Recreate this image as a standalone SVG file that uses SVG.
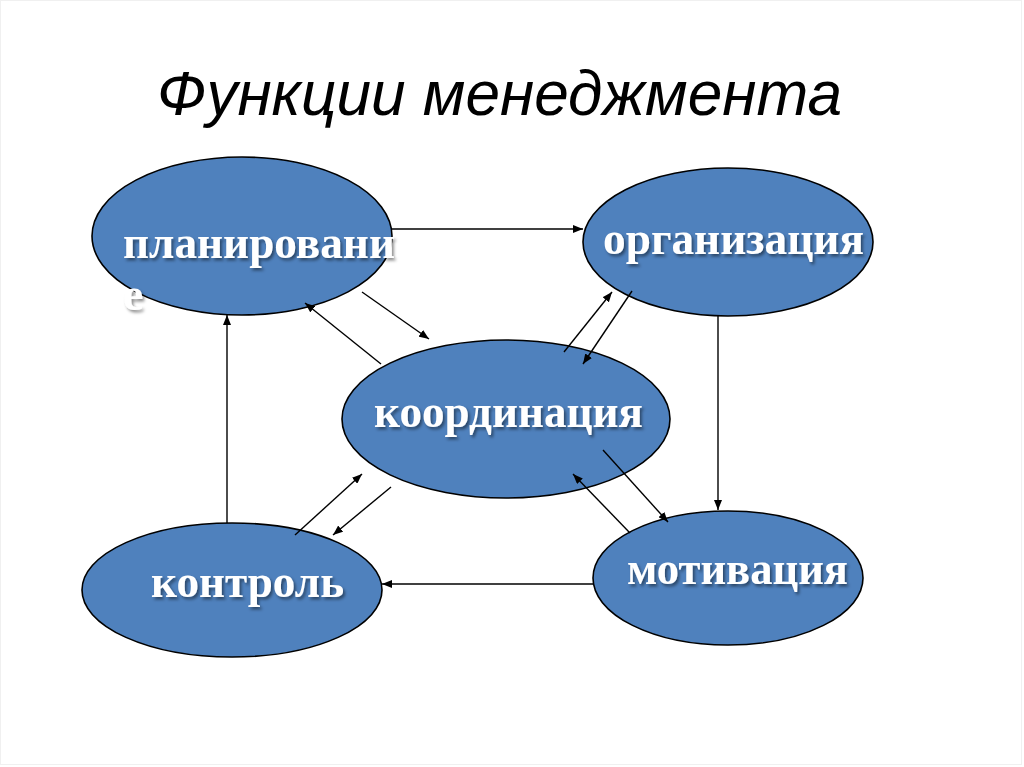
<svg xmlns="http://www.w3.org/2000/svg" width="1024" height="767" viewBox="0 0 1024 767">
<defs>
<style>
.node ellipse{fill:#4F81BD;stroke:#000;stroke-width:1.6}
.lbl{font-family:"Liberation Serif","Times New Roman",serif;font-weight:bold;font-size:46px;fill:#fff;filter:url(#sh)}
.title{font-family:"Liberation Sans",Arial,sans-serif;font-style:italic;font-size:63px;fill:#000}
#connectors line{stroke:#000;stroke-width:1.4;marker-end:url(#ah)}
</style>
<filter id="sh" x="-10%" y="-30%" width="130%" height="170%">
<feDropShadow dx="2" dy="2.5" stdDeviation="1.5" flood-color="#000" flood-opacity="0.45"/>
</filter>
<marker id="ah" viewBox="0 0 10 8" refX="10" refY="4" markerWidth="10" markerHeight="8" markerUnits="userSpaceOnUse" orient="auto">
<path d="M0,0 L10,4 L0,8 z" fill="#000"/>
</marker>
</defs>
<rect x="0" y="0" width="1024" height="767" fill="#fff"/>
<rect x="0.5" y="0.5" width="1021" height="764" fill="none" stroke="#f0f0f0" stroke-width="1"/>
<g id="title">
<text class="title" x="157" y="115" textLength="685" lengthAdjust="spacingAndGlyphs">Функции менеджмента</text>
</g>

<g id="planning" class="node">
<ellipse cx="242" cy="236" rx="150" ry="79"/>
<text class="lbl" x="123" y="258" textLength="272" lengthAdjust="spacingAndGlyphs">планировани</text>
<text class="lbl" x="123" y="310">е</text>
</g>
<g id="organization" class="node">
<ellipse cx="728" cy="242" rx="145" ry="74"/>
<text class="lbl" x="603" y="254" textLength="261" lengthAdjust="spacingAndGlyphs">организация</text>
</g>
<g id="coordination" class="node">
<ellipse cx="506" cy="419" rx="164" ry="79"/>
<text class="lbl" x="374" y="427" textLength="269" lengthAdjust="spacingAndGlyphs">координация</text>
</g>
<g id="motivation" class="node">
<ellipse cx="728" cy="578" rx="135" ry="67"/>
<text class="lbl" x="627" y="584" textLength="221" lengthAdjust="spacingAndGlyphs">мотивация</text>
</g>
<g id="control" class="node">
<ellipse cx="232" cy="590" rx="150" ry="67"/>
<text class="lbl" x="151" y="597" textLength="193" lengthAdjust="spacingAndGlyphs">контроль</text>
</g>

<g id="connectors">
<line x1="392" y1="229" x2="583" y2="229"/>
<line x1="362" y1="292" x2="429" y2="339"/>
<line x1="381" y1="364" x2="305" y2="303"/>
<line x1="564" y1="352" x2="612" y2="292"/>
<line x1="632" y1="291" x2="583" y2="364"/>
<line x1="718" y1="315" x2="718" y2="510"/>
<line x1="603" y1="450" x2="668" y2="522"/>
<line x1="630" y1="533" x2="573" y2="474"/>
<line x1="593" y1="584" x2="382" y2="584"/>
<line x1="227" y1="523" x2="227" y2="315"/>
<line x1="295" y1="535" x2="362" y2="474"/>
<line x1="391" y1="487" x2="333" y2="535"/>
</g>
</svg>
